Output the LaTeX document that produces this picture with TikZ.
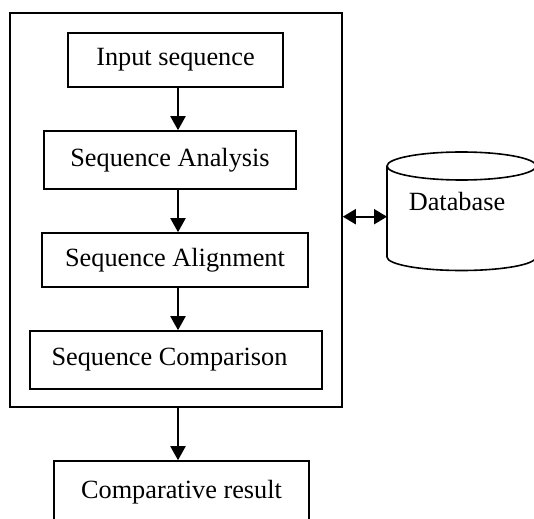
\documentclass[tikz,border=0pt]{standalone}
\usepackage{fontspec}
\setmainfont{Liberation Serif}
\usetikzlibrary{arrows.meta}
\begin{document}
\begin{tikzpicture}[x=1pt,y=-1pt,
  box/.style={draw,line width=1.6pt,inner sep=0pt,font=\fontsize{26.3}{30}\selectfont},
  flow/.style={line width=2pt,-{Triangle[length=14pt,width=15pt]}},
  both/.style={line width=2pt,{Triangle[length=13pt,width=15pt]}-{Triangle[length=13pt,width=15pt]}}]
\useasboundingbox[fill=white] (0,0) rectangle (534,518);
\node[box,minimum width=332pt,minimum height=394pt] (outer) at (176,210) {};
\node[box,minimum width=215pt,minimum height=54pt] (in) at (175.5,60) {Input sequence};
\node[box,minimum width=252pt,minimum height=58pt] (ana) at (170,160) {Sequence Analysis};
\node[box,minimum width=266pt,minimum height=54pt] (ali) at (175,260) {Sequence Alignment};
\node[box,minimum width=292pt,minimum height=58pt] (com) at (176,360) {\hspace*{-13pt}Sequence Comparison};
\node[box,minimum width=255pt,minimum height=62pt] (res) at (181.5,492) {\raisebox{2pt}{Comparative result}};
\coordinate (xa) at (178,0);
% database cylinder
\draw[line width=1.6pt] (387,166) -- (387,257) arc[start angle=180,end angle=360,x radius=74.5pt,y radius=13.5pt] -- (536,166);
\draw[line width=1.6pt] (461.5,166) ellipse[x radius=74.5pt,y radius=14pt];
\node[font=\fontsize{26.3}{30}\selectfont,inner sep=0pt] (db) at (457,202) {Database};
\coordinate (dbl) at (387,216.7);
% connectors
\draw[flow] (in.south -| xa) -- (ana.north -| xa);
\draw[flow] (ana.south -| xa) -- (ali.north -| xa);
\draw[flow] (ali.south -| xa) -- (com.north -| xa);
\draw[flow] (outer.south -| xa) -- (res.north -| xa);
\draw[both] (outer.east |- dbl) -- (dbl);
\end{tikzpicture}
\end{document}
